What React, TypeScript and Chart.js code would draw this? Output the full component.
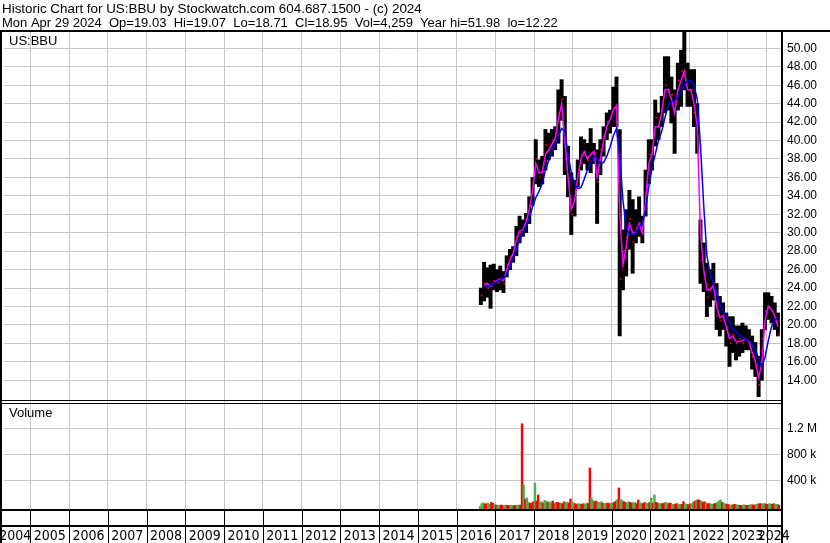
import React, { useEffect, useRef } from "react";
import { Chart, registerables } from "chart.js";
Chart.register(...registerables);

const title1 = "Historic Chart for US:BBU by Stockwatch.com 604.687.1500 - (c) 2024";
const title2 = "Mon Apr 29 2024  Op=19.03  Hi=19.07  Lo=18.71  Cl=18.95  Vol=4,259  Year hi=51.98  lo=12.22";

const months = [
  "2016-08","2016-09","2016-10","2016-11","2016-12",
  "2017-01","2017-02","2017-03","2017-04","2017-05","2017-06","2017-07","2017-08","2017-09","2017-10","2017-11","2017-12",
  "2018-01","2018-02","2018-03","2018-04","2018-05","2018-06","2018-07","2018-08","2018-09","2018-10","2018-11","2018-12",
  "2019-01","2019-02","2019-03","2019-04","2019-05","2019-06","2019-07","2019-08","2019-09","2019-10","2019-11","2019-12",
  "2020-01","2020-02","2020-03","2020-04","2020-05","2020-06","2020-07","2020-08","2020-09","2020-10","2020-11","2020-12",
  "2021-01","2021-02","2021-03","2021-04","2021-05","2021-06","2021-07","2021-08","2021-09","2021-10","2021-11","2021-12",
  "2022-01","2022-02","2022-03","2022-04","2022-05","2022-06","2022-07","2022-08","2022-09","2022-10","2022-11","2022-12",
  "2023-01","2023-02","2023-03","2023-04","2023-05","2023-06","2023-07","2023-08","2023-09","2023-10","2023-11","2023-12",
  "2024-01","2024-02","2024-03","2024-04",
];

const highs = [
  24.0, 26.8, 26.2, 26.5, 26.6,
  26.0, 26.4, 25.8, 27.5, 28.2, 28.5, 30.7, 31.8, 31.4, 32.1, 33.9, 36.0,
  40.1, 37.9, 38.3, 41.2, 40.8, 41.2, 41.5, 45.5, 46.6, 44.8, 39.4, 36.5,
  35.7, 37.9, 40.4, 40.1, 39.7, 41.3, 39.7, 39.0, 40.1, 41.5, 43.0, 43.3,
  45.8, 46.9, 41.2, 30.3, 32.5, 34.6, 33.6, 32.5, 33.9, 31.8, 36.8, 40.1,
  40.1, 44.4, 43.0, 44.8, 49.1, 49.1, 46.9, 45.5, 48.4, 49.8, 51.98, 48.4,
  47.7, 47.7, 44.0, 31.4, 28.9, 26.7, 26.0, 26.7, 24.5, 23.1, 22.4, 21.3,
  20.9, 20.9, 19.9, 19.9, 20.2, 19.9, 19.5, 18.8, 18.1, 16.6, 19.5, 23.5,
  23.5, 23.1, 22.4, 21.3,
];
const lows = [
  22.2, 22.6, 23.0, 21.8, 23.8,
  23.6, 23.8, 23.5, 25.2, 26.0, 26.8, 27.5, 28.9, 29.6, 30.0, 31.0, 33.0,
  35.3, 35.0, 35.3, 36.8, 37.9, 38.3, 39.0, 39.7, 42.2, 36.3, 33.9, 29.8,
  31.8, 35.0, 36.8, 37.5, 36.8, 36.5, 37.5, 31.0, 36.3, 38.3, 40.1, 40.8,
  41.5, 41.5, 18.8, 23.8, 25.3, 28.2, 25.6, 28.9, 29.6, 28.9, 31.8, 35.3,
  36.8, 39.4, 40.1, 41.5, 43.0, 43.3, 41.9, 38.6, 43.3, 43.7, 45.5, 43.7,
  43.7, 41.5, 38.6, 24.5, 23.6, 20.9, 22.0, 22.7, 19.5, 18.8, 19.5, 17.7,
  15.5, 17.0, 16.2, 16.6, 17.0, 17.3, 17.3, 15.2, 14.4, 12.22, 14.0, 19.5,
  20.6, 20.2, 19.5, 18.8,
];
const closes = [
  23.2, 24.5, 24.0, 24.2, 24.8,
  24.6, 25.0, 24.5, 26.5, 27.4, 28.0, 29.6, 30.0, 30.5, 31.5, 33.0, 35.5,
  38.0, 36.0, 36.6, 39.5, 39.0, 40.0, 40.5, 43.0, 44.5, 38.0, 35.5, 32.0,
  34.5, 36.5, 38.5, 38.8, 37.8, 38.5, 38.6, 35.5, 39.0, 40.5, 42.0, 42.5,
  43.5, 42.0, 25.0, 28.0, 29.5, 31.5, 29.0, 30.5, 31.0, 30.0, 35.0, 38.5,
  38.5, 42.5, 41.5, 43.5, 46.0, 45.5, 45.0, 44.0, 46.5, 47.5, 47.0, 45.5,
  45.5, 43.0, 40.5, 27.0, 25.5, 23.0, 24.0, 24.5, 21.0, 20.5, 21.0, 19.5,
  18.0, 19.0, 18.0, 18.5, 18.0, 18.5, 18.0, 16.5, 15.5, 13.5, 18.5, 21.5,
  22.0, 21.5, 20.5, 18.95,
];
const maFast = [
  null, 24.3, 24.5, 24.2, 24.6,
  24.8, 25.0, 24.8, 26.0, 27.0, 27.8, 29.2, 30.2, 30.3, 31.2, 32.5, 34.5,
  37.5, 36.5, 36.5, 38.5, 39.0, 39.6, 40.2, 42.3, 44.0, 40.0, 36.0, 32.5,
  33.5, 36.0, 38.0, 38.8, 38.0, 38.5, 38.8, 36.0, 38.0, 40.0, 41.5, 42.3,
  43.3, 43.8, 32.0, 26.5, 28.5, 31.0, 30.0, 30.0, 31.0, 30.0, 33.5, 37.5,
  38.5, 41.5, 41.5, 43.0, 45.5, 45.5, 44.5, 43.0, 45.5, 46.5, 47.5, 45.5,
  45.5, 44.0, 41.5, 30.0, 26.0, 23.8, 23.8, 24.3, 22.0, 20.8, 21.0, 19.8,
  18.5, 18.8, 18.2, 18.2, 18.3, 18.5, 18.2, 17.0, 16.0, 14.3, 15.8, 20.5,
  22.0, 21.7, 21.0, 19.8,
];
const maSlow = [
  null, 24.0, 24.2, 24.3, 24.5,
  24.7, 24.9, 25.1, 25.5, 26.3, 27.2, 28.3, 29.2, 30.0, 30.8, 31.6, 32.8,
  33.8, 34.5, 35.3, 36.8, 37.8, 38.8, 39.5, 40.5, 41.3, 41.0, 38.5, 36.5,
  35.3, 34.8, 34.9, 35.8, 36.8, 37.5, 38.3, 38.0, 37.5, 37.6, 38.3, 39.3,
  40.5, 41.3, 38.5, 33.5, 30.5, 29.8, 29.8, 30.0, 30.7, 31.0, 32.5, 35.0,
  37.0, 38.5, 40.0, 41.0, 42.5, 43.8, 44.3, 44.3, 44.8, 45.3, 46.0, 46.5,
  46.5, 46.0, 44.5, 39.5, 33.0, 27.5, 25.5, 24.5, 23.5, 22.3, 21.5, 21.0,
  20.3, 19.5, 19.3, 18.9, 18.6, 18.5, 18.3, 17.9, 17.3, 16.3, 15.5, 16.5,
  18.3, 19.8, 20.5, 20.9,
];

// volume in thousands, two values per month (first half, second half)
const volumeK = [
  0, 40, 55, 35, 40, 50, 30, 60, 45, 25,
  20, 15, 15, 20, 15, 12, 18, 15, 12, 15, 15, 10, 12, 18, 15, 20, 1270, 330, 110, 130, 60, 45, 50, 70,
  358, 80, 174, 60, 70, 50, 90, 80, 60, 70, 50, 80, 40, 60, 60, 50, 50, 40, 70, 60, 60, 50, 112, 70,
  50, 40, 30, 40, 35, 30, 40, 30, 50, 40, 589, 132, 90, 70, 80, 60, 60, 70, 50, 40, 45, 50, 40, 50,
  50, 60, 80, 100, 282, 110, 90, 70, 60, 50, 70, 60, 50, 55, 60, 40, 97, 50, 50, 40, 60, 50, 40, 60,
  128, 50, 174, 60, 50, 40, 45, 40, 50, 60, 40, 50, 45, 30, 30, 35, 40, 30, 25, 30, 71, 40, 30, 25,
  35, 40, 60, 80, 95, 100, 90, 80, 60, 70, 50, 40, 40, 35, 30, 40, 45, 60, 85, 97, 60, 50, 40, 30,
  25, 20, 20, 25, 30, 20, 20, 15, 15, 20, 20, 15, 15, 20, 25, 20, 20, 30, 35, 40, 40, 30, 45, 35,
  30, 40, 35, 30, 40, 30, 30, 20,
];
const volumeColors = [
  "gg","gr","rg","gr","rg",
  "rg","gr","rg","gr","rg","gr","rg","gr","rg","rg","gr","rr",
  "gr","rg","gr","gg","rg","gr","rg","rr","gr","rg","gr","rg",
  "gr","rg","gr","rg","gr","rg","gr","rg","gg","rg","gr","rg",
  "gr","rg","rg","gr","rg","gr","rg","gr","rg","gr","rg","gr",
  "gr","gr","rg","gr","rg","gr","rg","gr","rg","gr","rg","gr",
  "rg","gr","gr","rg","rr","gr","rg","gr","rg","gg","rg","gr",
  "rg","gr","rg","gr","rg","gr","rg","gr","rg","gr","rg","gr",
  "rg","gr","rg","gr",
].join("");

const priceTicks = [14, 16, 18, 20, 22, 24, 26, 28, 30, 32, 34, 36, 38, 40, 42, 44, 46, 48, 50];
const volTicks = [400000, 800000, 1200000];
const volTickLabels = ["400 k", "800 k", "1.2 M"];
const years = [2004, 2005, 2006, 2007, 2008, 2009, 2010, 2011, 2012, 2013, 2014, 2015, 2016, 2017, 2018, 2019, 2020, 2021, 2022, 2023, 2024];

const X_MIN = 2004.32;
const X_MAX = 2024.37;

const toYear = (m: string, frac: number) => Number(m.slice(0, 4)) + (Number(m.slice(5, 7)) - 1 + frac) / 12;

const FONT = '"Liberation Sans", Arial, sans-serif';

const chromePlugin = {
  id: "chrome",
  beforeDraw(chart: any) {
    const ctx = chart.ctx;
    ctx.save();
    ctx.fillStyle = "#fff";
    ctx.fillRect(0, 0, chart.width, chart.height);
    ctx.restore();
  },
  afterDraw(chart: any) {
    const ctx = chart.ctx;
    const xs = chart.scales.x;
    const ca = chart.chartArea;
    ctx.save();
    ctx.fillStyle = "#000";
    ctx.textAlign = "left";
    ctx.textBaseline = "alphabetic";
    ctx.font = "13.4px " + FONT;
    ctx.fillText(title1, 2, 13);
    ctx.font = "13px " + FONT;
    ctx.fillText(title2, 2, 27);
    ctx.fillText("US:BBU", 9, 45);
    ctx.fillText("Volume", 9, 417);

    // frame
    ctx.fillRect(0, 30, 830, 2);
    ctx.fillRect(0, 30, 2, 513);
    ctx.fillRect(781, 30, 2, 513);
    ctx.fillRect(0, 400, 781, 1);
    ctx.fillRect(0, 403, 781, 1);
    ctx.fillRect(0, 509, 781, 2);
    ctx.fillRect(0, 525, 781, 2);

    // year separators and labels
    for (let i = 1; i < years.length; i++) {
      const px = Math.round(xs.getPixelForValue(years[i]));
      ctx.fillRect(px, 511, 1, 32);
    }
    ctx.font = '14px "Liberation Sans Narrow", "DejaVu Sans Condensed", ' + FONT;
    ctx.textAlign = "center";
    for (const y of years) {
      const l = Math.max(xs.getPixelForValue(y), ca.left - 4);
      const r = Math.min(xs.getPixelForValue(y + 1), ca.right);
      ctx.fillText(String(y), (l + r) / 2, 540);
    }
    ctx.restore();
  },
};

export default function App() {
  const ref = useRef<HTMLCanvasElement | null>(null);
  useEffect(() => {
    const canvas = ref.current!;
    const priceBars = months.map((m, i) => ({ x: toYear(m, 0.5), y: [lows[i], highs[i]] }));
    const closePts = months.map((m, i) => ({ x: toYear(m, 0.75), y: closes[i] }));
    const fastPts = months.map((m, i) => ({ x: toYear(m, 0.5), y: maFast[i] }));
    const slowPts = months.map((m, i) => ({ x: toYear(m, 0.5), y: maSlow[i] }));
    const volPts = volumeK.map((v, i) => ({ x: toYear(months[i >> 1], (i % 2) * 0.5 + 0.25), y: v * 1000 }));
    const volCols = volumeK.map((_, i) => (volumeColors[i] === "r" ? "#ff0000" : "#4cb04c"));

    const chart = new Chart(canvas, {
      type: "line",
      data: {
        datasets: [
          { type: "line", data: slowPts as any, yAxisID: "y", borderColor: "#0000ff", borderWidth: 1.5, pointRadius: 0, order: 0 },
          { type: "line", data: fastPts as any, yAxisID: "y", borderColor: "#ff00ff", borderWidth: 1.5, pointRadius: 0, order: 1 },
          { type: "line", data: closePts as any, yAxisID: "y", showLine: false, pointStyle: "rect", pointRadius: 1.2, pointBackgroundColor: "#ff0000", pointBorderWidth: 0, order: 2 },
          { type: "bar", data: priceBars as any, yAxisID: "y", backgroundColor: "#000", barThickness: 3.3, grouped: false, order: 3 },
          { type: "bar", data: volPts as any, yAxisID: "yv", backgroundColor: volCols, barThickness: 1.8, grouped: false, base: -57000, order: 4 } as any,
        ],
      },
      options: {
        animation: false,
        responsive: false,
        devicePixelRatio: 1,
        layout: { padding: { top: 31, left: 1, right: 0, bottom: 0 } },
        plugins: { legend: { display: false }, tooltip: { enabled: false } },
        scales: {
          x: {
            type: "linear",
            min: X_MIN,
            max: X_MAX,
            offset: false,
            grid: { color: "#c8c8c8", drawTicks: false, offset: false },
            border: { display: false },
            ticks: { display: false, autoSkip: false },
            afterBuildTicks: (s: any) => { s.ticks = years.slice(1).map((v) => ({ value: v })); },
            afterFit: (s: any) => { s.height = 33; },
          },
          y: {
            type: "linear",
            position: "right",
            stack: "panels",
            stackWeight: 370,
            min: 11.75,
            max: 51.88,
            grid: { color: "#c8c8c8", drawTicks: false },
            border: { display: false },
            ticks: { color: "#000", padding: 6, autoSkip: false, font: { family: FONT, size: 12 }, callback: (v: any) => Number(v).toFixed(2) },
            afterBuildTicks: (s: any) => { s.ticks = priceTicks.map((v) => ({ value: v })); },
            afterFit: (s: any) => { s.width = 49; },
          },
          yv: {
            type: "linear",
            position: "right",
            stack: "panels",
            stackWeight: 109,
            min: -57000,
            max: 1620000,
            grid: { color: "#c8c8c8", drawTicks: false },
            border: { display: false },
            ticks: { color: "#000", padding: 6, autoSkip: false, font: { family: FONT, size: 12 }, callback: (v: any) => volTickLabels[volTicks.indexOf(Number(v))] ?? "" },
            afterBuildTicks: (s: any) => { s.ticks = volTicks.map((v) => ({ value: v })); },
            afterFit: (s: any) => { s.width = 49; },
          },
        },
      } as any,
      plugins: [chromePlugin],
    });
    return () => chart.destroy();
  }, []);
  return (
    <div style={{ position: "absolute", left: 0, top: 0, width: 830, height: 543, background: "#fff" }}>
      <canvas ref={ref} width={830} height={543} style={{ display: "block" }} />
    </div>
  );
}
